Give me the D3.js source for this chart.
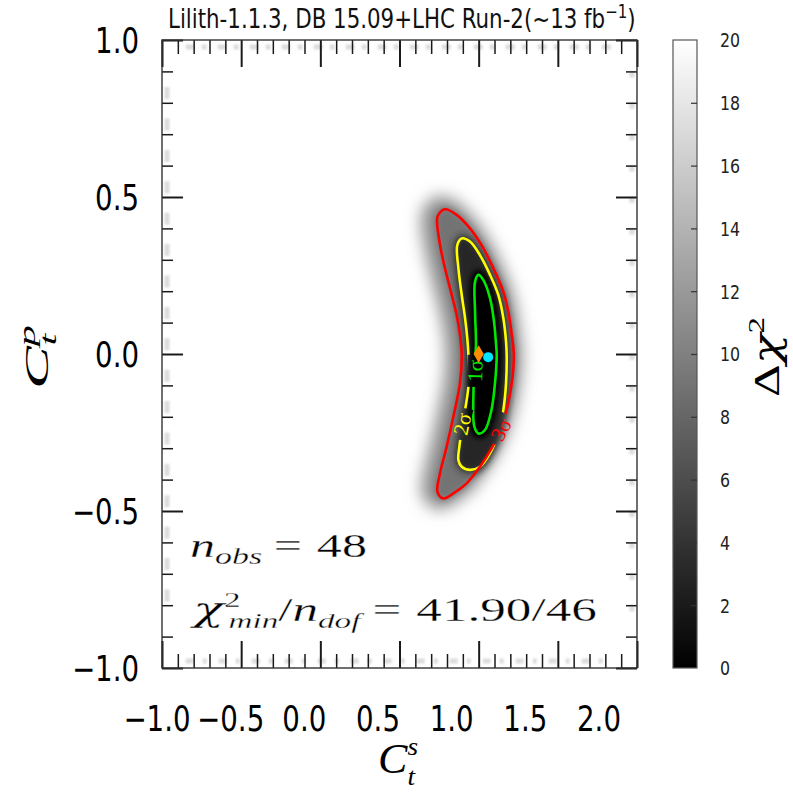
<!DOCTYPE html>
<html>
<head>
<meta charset="utf-8">
<script src="https://cdn.jsdelivr.net/npm/d3@7/dist/d3.min.js"></script>
<style>
  html, body { margin: 0; padding: 0; background: #ffffff; }
  svg { display: block; }
</style>
</head>
<body>
<svg id="chart" width="793" height="793"></svg>
<script>
// ---------------------------------------------------------------------------
// Data
// ---------------------------------------------------------------------------
const titleText = "Lilith-1.1.3, DB 15.09+LHC Run-2(~13 fb";
const titleSup = "\u22121";
const xTickValues = [-1.0, -0.5, 0.0, 0.5, 1.0, 1.5, 2.0];
const yTickValues = [-1.0, -0.5, 0.0, 0.5, 1.0];
const colorbarTicks = [0, 2, 4, 6, 8, 10, 12, 14, 16, 18, 20];
const chi2Range = [0, 20];
const chi2Levels = [2.30, 6.18, 11.83];
const sigmaLabels = ["1\u03c3", "2\u03c3", "3\u03c3"];
const sigmaColors = ["#00e800", "#ffff00", "#ff0000"];

// Confidence contours in the (C_t^s, C_t^p) plane, traced clockwise from the top
const contour1 = [
  [0.998, 0.252], [1.029, 0.236], [1.072, 0.177], [1.097, 0.103], [1.110, 0.029],
  [1.114, -0.003], [1.103, -0.093], [1.081, -0.178], [1.040, -0.242], [0.998, -0.253],
  [0.972, -0.230], [0.967, -0.125], [0.975, -0.030], [0.983, 0.029], [0.977, 0.135],
  [0.977, 0.230]
];
const contour2 = [
  [0.893, 0.368], [0.945, 0.358], [1.008, 0.315], [1.072, 0.252], [1.124, 0.188],
  [1.156, 0.114], [1.173, 0.039], [1.177, -0.003], [1.173, -0.093], [1.156, -0.178],
  [1.124, -0.253], [1.072, -0.316], [1.008, -0.359], [0.945, -0.369], [0.893, -0.359],
  [0.872, -0.338], [0.878, -0.295], [0.900, -0.220], [0.935, -0.104], [0.935, -0.003],
  [0.928, 0.050], [0.914, 0.114], [0.893, 0.188], [0.872, 0.273], [0.865, 0.347]
];
const contour3 = [
  [0.787, 0.461], [0.861, 0.443], [0.945, 0.400], [1.029, 0.337], [1.093, 0.273],
  [1.156, 0.198], [1.187, 0.135], [1.209, 0.061], [1.222, -0.003], [1.209, -0.093],
  [1.181, -0.168], [1.135, -0.245], [1.082, -0.300], [1.008, -0.359], [0.924, -0.412],
  [0.840, -0.444], [0.777, -0.460], [0.740, -0.440], [0.756, -0.380], [0.798, -0.295],
  [0.840, -0.200], [0.882, -0.093], [0.893, -0.003], [0.882, 0.061], [0.861, 0.124],
  [0.830, 0.188], [0.787, 0.274], [0.756, 0.347], [0.737, 0.427], [0.745, 0.443]
];
// Inline contour labels: anchor point and angle (degrees)
const labelPos = [[0.977, -0.054], [0.895, -0.223], [1.140, -0.240]];
const labelAngle = [-88, -78, -62];

const smPoint = [1.0, 0.0];
const bestFit = [1.06, -0.01];
const nObs = 48;
const chi2Min = 41.90;
const nDof = 46;

// ---------------------------------------------------------------------------
// Layout
// ---------------------------------------------------------------------------
const svg = d3.select("#chart");
const P = { l: 162, r: 637, t: 40, b: 668 };
const x = d3.scaleLinear().domain([-1, 2]).range([P.l, P.r]);
const y = d3.scaleLinear().domain([-1, 1]).range([P.b, P.t]);
const xLabelX = d3.scaleLinear().domain([-1, 2]).range([157, 599]);
const gray = d3.scaleLinear().domain(chi2Range).range(["#000000", "#ffffff"]).clamp(true);
const SQ = 0.79;              // horizontal squeeze of the lettering
const fmt = d3.format(".1f");
const SANS = "'DejaVu Sans', sans-serif";
const SERIF = "'Liberation Serif', 'DejaVu Serif', serif";
const GREEK = "'DejaVu Serif', serif";

const defs = svg.append("defs");
defs.append("clipPath").attr("id", "plotClip")
  .append("rect").attr("x", P.l).attr("y", P.t).attr("width", P.r - P.l).attr("height", P.b - P.t);

function addBlur(id, sd) {
  defs.append("filter").attr("id", id)
    .attr("x", "-50%").attr("y", "-50%").attr("width", "200%").attr("height", "200%")
    .append("feGaussianBlur").attr("stdDeviation", sd);
}
addBlur("blurHalo", 8);
addBlur("blurMid", 3.5);
addBlur("blurCore", 2.5);
addBlur("blurGhost", 1.3);

const closed = d3.line()
  .x(d => x(d[0])).y(d => y(d[1]))
  .curve(d3.curveCatmullRomClosed.alpha(0.5));

// ---------------------------------------------------------------------------
// Δχ² shading
// ---------------------------------------------------------------------------
const field = svg.append("g").attr("clip-path", "url(#plotClip)");
field.append("path").attr("d", closed(contour3))
  .attr("transform", "translate(-4,-1)")
  .attr("fill", gray(11)).attr("stroke", gray(11)).attr("stroke-width", 24)
  .attr("stroke-linejoin", "round").attr("filter", "url(#blurHalo)");
field.append("path").attr("d", closed(contour3))
  .attr("fill", gray(9)).attr("stroke", gray(9)).attr("stroke-width", 3)
  .attr("filter", "url(#blurMid)");
field.append("path").attr("d", closed(contour2))
  .attr("fill", gray(3)).attr("stroke", gray(3)).attr("stroke-width", 6)
  .attr("filter", "url(#blurMid)");
field.append("path").attr("d", closed(contour1))
  .attr("fill", gray(0)).attr("stroke", gray(0)).attr("stroke-width", 10)
  .attr("filter", "url(#blurCore)");

// faint smudges along the inner frame edges
const ghost = svg.append("g").attr("filter", "url(#blurGhost)").attr("opacity", 0.5)
  .attr("stroke", "#b8b8b8").attr("stroke-width", 5).attr("fill", "none");
ghost.append("line").attr("x1", P.l + 5).attr("x2", P.l + 5).attr("y1", y(0.85)).attr("y2", y(-0.85))
  .attr("stroke-dasharray", "12 19.4");
ghost.append("line").attr("x1", x(-0.85)).attr("x2", x(1.85)).attr("y1", P.t + 7).attr("y2", P.t + 7)
  .attr("stroke-dasharray", "9 7 5 11");
ghost.append("line").attr("x1", x(-0.85)).attr("x2", x(1.85)).attr("y1", P.b - 7).attr("y2", P.b - 7)
  .attr("stroke-dasharray", "8 9 4 12");
ghost.append("line").attr("x1", P.r - 5).attr("x2", P.r - 5).attr("y1", y(0.9)).attr("y2", y(-0.9))
  .attr("stroke-dasharray", "6 25.4");

// ---------------------------------------------------------------------------
// Contour lines with inline labels
// ---------------------------------------------------------------------------
const gapMask = defs.append("mask").attr("id", "labelGaps")
  .attr("maskUnits", "userSpaceOnUse").attr("x", 0).attr("y", 0).attr("width", 793).attr("height", 793);
gapMask.append("rect").attr("x", 0).attr("y", 0).attr("width", 793).attr("height", 793).attr("fill", "#fff");
labelPos.forEach((p, i) => {
  gapMask.append("rect").attr("x", -16).attr("y", -8).attr("width", 32).attr("height", 16).attr("fill", "#000")
    .attr("transform", `translate(${x(p[0])},${y(p[1])}) rotate(${labelAngle[i]})`);
});

const lines = svg.append("g").attr("clip-path", "url(#plotClip)")
  .append("g").attr("mask", "url(#labelGaps)");
[contour1, contour2, contour3].forEach((c, i) => {
  lines.append("path").attr("d", closed(c))
    .attr("fill", "none").attr("stroke", sigmaColors[i]).attr("stroke-width", 2.6);
});

labelPos.forEach((p, i) => {
  svg.append("text")
    .attr("transform", `translate(${x(p[0])},${y(p[1])}) rotate(${labelAngle[i]})`)
    .attr("text-anchor", "middle").attr("dy", "0.35em")
    .attr("font-family", SERIF).attr("font-size", 21)
    .attr("fill", sigmaColors[i]).text(sigmaLabels[i]);
});

// SM point and best fit
const diamond = d3.symbol().type(d3.symbolDiamond).size(90);
svg.append("path").attr("d", diamond())
  .attr("transform", `translate(${x(smPoint[0])},${y(smPoint[1])})`)
  .attr("fill", "#ff8c00");
svg.append("circle").attr("cx", x(bestFit[0])).attr("cy", y(bestFit[1])).attr("r", 5)
  .attr("fill", "#00e5ff");

// ---------------------------------------------------------------------------
// Frame and ticks
// ---------------------------------------------------------------------------
const xMajor = d3.range(-10, 21, 5).map(d => d / 10);
const xMinor = d3.range(-10, 21, 1).filter(d => d % 5 !== 0).map(d => d / 10);
const yMajor = d3.range(-10, 11, 5).map(d => d / 10);
const yMinor = d3.range(-10, 11, 1).filter(d => d % 5 !== 0).map(d => d / 10);

function tickAxis(axis, transform, size, values, width) {
  const g = svg.append("g").attr("transform", transform)
    .call(axis.tickValues(values).tickSize(size).tickFormat(""));
  g.select(".domain").remove();
  g.selectAll(".tick line").attr("stroke", "#1a1a1a").attr("stroke-width", width);
}
tickAxis(d3.axisBottom(x), `translate(0,${P.t})`, 27, xMajor, 2);
tickAxis(d3.axisBottom(x), `translate(0,${P.t})`, 14, xMinor, 1.5);
tickAxis(d3.axisTop(x), `translate(0,${P.b})`, 27, xMajor, 2);
tickAxis(d3.axisTop(x), `translate(0,${P.b})`, 14, xMinor, 1.5);
tickAxis(d3.axisRight(y), `translate(${P.l},0)`, 21, yMajor, 2);
tickAxis(d3.axisRight(y), `translate(${P.l},0)`, 11, yMinor, 1.5);
tickAxis(d3.axisLeft(y), `translate(${P.r},0)`, 21, yMajor, 2);
tickAxis(d3.axisLeft(y), `translate(${P.r},0)`, 11, yMinor, 1.5);

svg.append("rect").attr("x", P.l).attr("y", P.t).attr("width", P.r - P.l).attr("height", P.b - P.t)
  .attr("fill", "none").attr("stroke", "#333").attr("stroke-width", 1.4);

// tick labels
svg.append("g").selectAll("text").data(yTickValues).join("text")
  .attr("transform", d => `translate(139,${y(d) + 12.7}) scale(${SQ},1)`)
  .attr("text-anchor", "end").attr("font-family", SANS).attr("font-size", 35)
  .attr("fill", "#000").text(d => fmt(d));
svg.append("g").selectAll("text").data(xTickValues).join("text")
  .attr("transform", d => `translate(${xLabelX(d)},731) scale(${SQ},1)`)
  .attr("text-anchor", "middle").attr("font-family", SANS).attr("font-size", 35)
  .attr("fill", "#000").text(d => fmt(d));

// ---------------------------------------------------------------------------
// Text helpers
// ---------------------------------------------------------------------------
function fitText(t, left, baseline, width) {
  const bb = t.node().getBBox();
  const s = width / bb.width;
  t.attr("transform", `translate(${left - bb.x * s},${baseline}) scale(${s},1)`);
}
function fitRotated(t, cx, cy, length, squeeze) {
  const bb = t.node().getBBox();
  const s = length / bb.width;
  const mid = bb.x + bb.width / 2;
  t.attr("transform", `translate(${cx},${cy}) scale(${squeeze},1) rotate(-90) scale(${s},1) translate(${-mid},0)`);
}

// title
const title = svg.append("text").attr("font-family", SANS).attr("font-size", 27).attr("fill", "#111");
title.append("tspan").text(titleText);
title.append("tspan").attr("font-size", 19).attr("dy", -10).text(titleSup);
title.append("tspan").attr("dy", 10).text(")");
fitText(title, 168, 28, 468);

// axis labels
const xl = svg.append("text").attr("font-family", SERIF).attr("font-size", 42).attr("font-style", "italic");
xl.append("tspan").text("C");
xl.append("tspan").attr("font-size", 26).attr("dy", -18).text("s");
xl.append("tspan").attr("font-size", 26).attr("dx", -10).attr("dy", 30).text("t");
fitText(xl, 378, 773, 40);

const yl = svg.append("text").attr("font-family", SERIF).attr("font-size", 44).attr("font-style", "italic");
yl.append("tspan").text("C");
yl.append("tspan").attr("font-size", 29).attr("dy", -17).text("p");
yl.append("tspan").attr("font-size", 29).attr("dx", -14).attr("dy", 27).text("t");
fitRotated(yl, 48, 357, 64, SQ);

// fit statistics (thin white outline keeps the strokes light)
const statStyle = t => t.attr("font-family", SERIF).attr("font-size", 34).attr("fill", "#000")
  .attr("stroke", "#fff").attr("stroke-width", 0.3).attr("paint-order", "normal");
const s1 = svg.append("text").call(statStyle);
s1.append("tspan").attr("font-style", "italic").text("n");
s1.append("tspan").attr("font-style", "italic").attr("font-size", 23).attr("dy", 7).text("obs");
s1.append("tspan").attr("dy", -7).attr("dx", 8).text("=");
s1.append("tspan").attr("dx", 10).text(`${nObs}`);
fitText(s1, 190, 557, 177);

const s2 = svg.append("text").call(statStyle);
s2.append("tspan").attr("font-family", GREEK).attr("font-style", "italic").text("\u03c7");
s2.append("tspan").attr("font-size", 22).attr("dy", -14).text("2");
s2.append("tspan").attr("font-style", "italic").attr("font-size", 22).attr("dx", -8).attr("dy", 21).text("min");
s2.append("tspan").attr("dy", -7).text("/");
s2.append("tspan").attr("font-style", "italic").text("n");
s2.append("tspan").attr("font-style", "italic").attr("font-size", 22).attr("dy", 7).text("dof");
s2.append("tspan").attr("dy", -7).attr("dx", 8).text("=");
s2.append("tspan").attr("dx", 10).text(`${chi2Min.toFixed(2)}/${nDof}`);
fitText(s2, 190, 621, 407);

// ---------------------------------------------------------------------------
// Colour bar
// ---------------------------------------------------------------------------
const cb = { x: 673, w: 24, t: 40, b: 668 };
const cbScale = d3.scaleLinear().domain(chi2Range).range([cb.b, cb.t]);
const grad = defs.append("linearGradient").attr("id", "cbGrad")
  .attr("x1", 0).attr("y1", 1).attr("x2", 0).attr("y2", 0);
grad.selectAll("stop").data(colorbarTicks).join("stop")
  .attr("offset", d => (d - chi2Range[0]) / (chi2Range[1] - chi2Range[0]))
  .attr("stop-color", d => gray(d));
svg.append("rect").attr("x", cb.x).attr("y", cb.t).attr("width", cb.w).attr("height", cb.b - cb.t)
  .attr("fill", "url(#cbGrad)").attr("stroke", "#555").attr("stroke-width", 1.2);
const cbAxis = svg.append("g").attr("transform", `translate(${cb.x + cb.w},0)`)
  .call(d3.axisLeft(cbScale).tickValues(colorbarTicks.slice(1, -1)).tickSize(6).tickFormat(""));
cbAxis.select(".domain").remove();
cbAxis.selectAll(".tick line").attr("stroke", "#333").attr("stroke-width", 1.2);
svg.append("g").selectAll("text").data(colorbarTicks).join("text")
  .attr("transform", d => `translate(720,${cbScale(d) + 7.3}) scale(${SQ},1)`)
  .attr("font-family", SANS).attr("font-size", 20).attr("fill", "#222").text(d => d);

const cl = svg.append("text").attr("font-family", SERIF).attr("font-size", 46);
cl.append("tspan").text("\u0394");
cl.append("tspan").attr("font-family", GREEK).attr("font-style", "italic").text("\u03c7");
cl.append("tspan").attr("font-size", 30).attr("dy", -19).text("2");
fitRotated(cl, 779, 357, 80, SQ);
</script>
</body>
</html>
